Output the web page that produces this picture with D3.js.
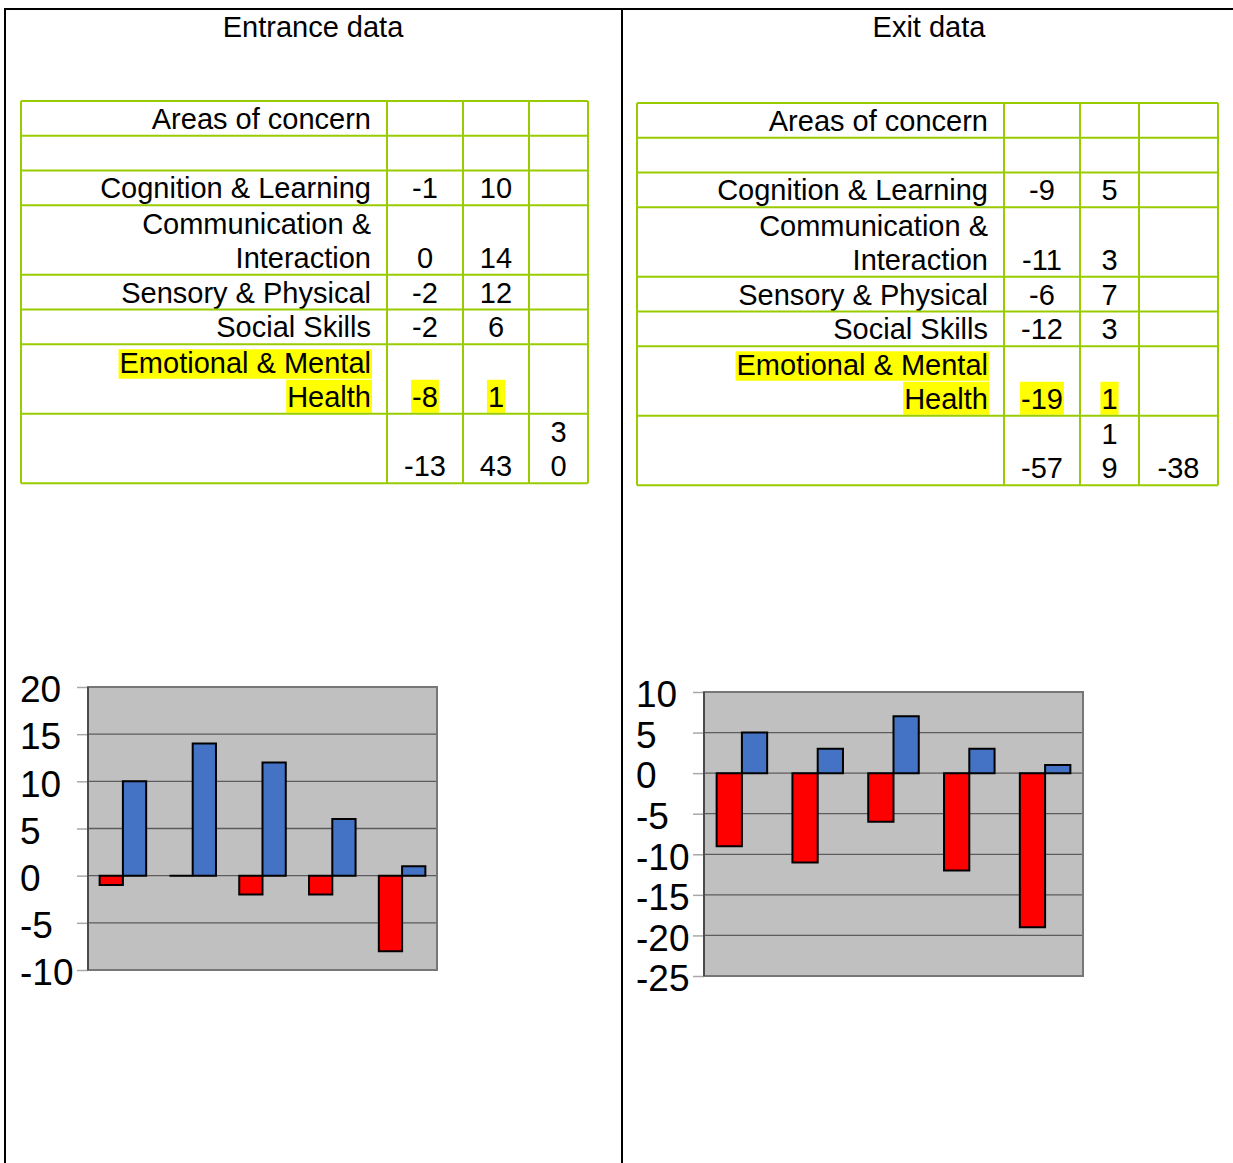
<!DOCTYPE html>
<html>
<head>
<meta charset="utf-8">
<script src="https://cdn.jsdelivr.net/npm/d3@7"></script>
<style>
  body { margin: 0; background: #fff; }
  svg { display: block; }
  text { font-family: "Liberation Sans", Arial, sans-serif; fill: #000; }
</style>
</head>
<body>
<svg id="page" width="1233" height="1163"></svg>
<script>
// ---- data -------------------------------------------------------------
const panelTitles = ["Entrance data", "Exit data"];
const headerLabel = "Areas of concern";
const areas = [
  "Cognition & Learning",
  "Communication & Interaction",
  "Sensory & Physical",
  "Social Skills",
  "Emotional & Mental Health"
];
const areaLines = [
  ["Cognition & Learning"],
  ["Communication &", "Interaction"],
  ["Sensory & Physical"],
  ["Social Skills"],
  ["Emotional & Mental", "Health"]
];
const highlightedArea = "Emotional & Mental Health";
const seriesKeys = ["down", "up"];

const entranceDown = [-1, 0, -2, -2, -8];
const entranceUp = [10, 14, 12, 6, 1];
const entranceTotals = [-13, 43, 30];
const entranceTicks = [-10, -5, 0, 5, 10, 15, 20];

const exitDown = [-9, -11, -6, -12, -19];
const exitUp = [5, 3, 7, 3, 1];
const exitTotals = [-57, 19, -38];
const exitTicks = [-25, -20, -15, -10, -5, 0, 5, 10];

// ---- layout -----------------------------------------------------------
const panels = [
  {
    title: panelTitles[0], titleX: 313,
    down: entranceDown, up: entranceUp, totals: entranceTotals, ticks: entranceTicks,
    cols: [21, 387, 463, 529, 588], tableTop: 101,
    plot: { x0: 88, x1: 437, y0: 687, y1: 970 }, labelX: 20
  },
  {
    title: panelTitles[1], titleX: 929,
    down: exitDown, up: exitUp, totals: exitTotals, ticks: exitTicks,
    cols: [637, 1004, 1080, 1139, 1218], tableTop: 103,
    plot: { x0: 704, x1: 1083, y0: 692, y1: 976 }, labelX: 636
  }
];

const GREEN = "#99CC00";
const YELLOW = "#FFFF00";
const RED = "#FF0000";
const BLUE = "#4472C4";
const TABLE_FONT = 29;
const LINE_H = 34.75;

const svg = d3.select("#page");

// page frame: two side-by-side cells
const frame = svg.append("g").attr("stroke", "#000").attr("stroke-width", 2);
frame.append("line").attr("x1", 4).attr("x2", 1233).attr("y1", 9).attr("y2", 9);
frame.append("line").attr("x1", 5).attr("x2", 5).attr("y1", 8).attr("y2", 1163);
frame.append("line").attr("x1", 622).attr("x2", 622).attr("y1", 8).attr("y2", 1163);

// text measuring helper
const measurer = svg.append("text").attr("font-size", TABLE_FONT).attr("visibility", "hidden");
function textWidth(s) {
  measurer.text(s);
  return measurer.node().getComputedTextLength();
}
// split a value into one character per line when the cell is too narrow
function wrapValue(s, cellW) {
  return textWidth(s) > cellW - 30 ? s.split("") : [s];
}

panels.forEach(p => {
  const g = svg.append("g");

  // title
  g.append("text")
    .attr("x", p.titleX).attr("y", 37)
    .attr("text-anchor", "middle")
    .attr("font-size", TABLE_FONT)
    .text(p.title);

  // ---- table ----
  const cols = p.cols;
  const colW = i => cols[i + 1] - cols[i];
  const rows = [];
  rows.push({ cells: [[headerLabel], [], [], []], hi: false });
  rows.push({ cells: [[], [], [], []], hi: false });
  areas.forEach((a, i) => {
    rows.push({
      cells: [areaLines[i], [String(p.down[i])], [String(p.up[i])], []],
      hi: a === highlightedArea
    });
  });
  rows.push({
    cells: [[], ...p.totals.map((t, j) => wrapValue(String(t), colW(j + 1)))],
    hi: false
  });

  let y = p.tableTop;
  rows.forEach(r => {
    r.n = Math.max(1, ...r.cells.map(c => c.length));
    r.top = y;
    r.bottom = y + r.n * LINE_H;
    y = r.bottom;
  });

  const hiLayer = g.append("g");
  const txtLayer = g.append("g").attr("font-size", TABLE_FONT);

  rows.forEach(r => {
    r.cells.forEach((lines, ci) => {
      lines.forEach((s, li) => {
        const base = r.bottom - 7 - (lines.length - 1 - li) * 34;
        const anchor = ci === 0 ? "end" : "middle";
        const tx = ci === 0 ? cols[1] - 16 : (cols[ci] + cols[ci + 1]) / 2;
        txtLayer.append("text")
          .attr("x", tx).attr("y", base)
          .attr("text-anchor", anchor)
          .text(s);
        if (r.hi) {
          const w = textWidth(s);
          const left = anchor === "end" ? tx - w : tx - w / 2;
          const top = Math.max(base - 27, r.top + 5);
          hiLayer.append("rect")
            .attr("x", left - 1).attr("y", top)
            .attr("width", w + 2).attr("height", base + 6 - top)
            .attr("fill", YELLOW);
        }
      });
    });
  });

  const grid = g.append("g").attr("stroke", GREEN).attr("stroke-width", 2);
  const ys = [rows[0].top, ...rows.map(r => r.bottom)];
  ys.forEach(yy => grid.append("line")
    .attr("x1", cols[0]).attr("x2", cols[cols.length - 1])
    .attr("y1", yy).attr("y2", yy));
  cols.forEach(xx => grid.append("line")
    .attr("x1", xx).attr("x2", xx)
    .attr("y1", ys[0]).attr("y2", ys[ys.length - 1]));

  // ---- bar chart ----
  const P = p.plot;
  const x = d3.scaleBand().domain(areas).range([P.x0, P.x1]);
  const xs = d3.scaleBand().domain(seriesKeys).range([0, x.bandwidth()])
    .paddingInner(0).paddingOuter(0.5);
  const yScale = d3.scaleLinear()
    .domain(d3.extent(p.ticks))
    .range([P.y1, P.y0]);

  const chart = g.append("g");
  chart.append("rect")
    .attr("x", P.x0).attr("y", P.y0)
    .attr("width", P.x1 - P.x0).attr("height", P.y1 - P.y0)
    .attr("fill", "#C0C0C0");

  chart.append("g").selectAll("line")
    .data(p.ticks)
    .join("line")
    .attr("x1", P.x0).attr("x2", P.x1)
    .attr("y1", d => yScale(d)).attr("y2", d => yScale(d))
    .attr("stroke", "#5c5c5c").attr("stroke-width", 1.3);

  const axis = chart.append("g")
    .attr("transform", `translate(${P.x0},0)`)
    .call(d3.axisLeft(yScale).tickValues(p.ticks).tickSize(11).tickFormat(d => String(d)));
  axis.select(".domain").remove();
  axis.selectAll(".tick line").attr("stroke", "#a8a8a8").attr("stroke-width", 1.5);
  axis.selectAll(".tick text")
    .attr("x", p.labelX - P.x0)
    .attr("dy", "0.4em")
    .attr("text-anchor", "start")
    .attr("font-size", 37)
    .attr("font-family", "'Liberation Sans', Arial, sans-serif")
    .attr("fill", "#000");

  const barData = [];
  areas.forEach((a, i) => {
    barData.push({ area: a, key: "down", v: p.down[i] });
    barData.push({ area: a, key: "up", v: p.up[i] });
  });
  const y0 = yScale(0);
  chart.append("g").selectAll("path")
    .data(barData)
    .join("path")
    .attr("d", d => {
      const bx = x(d.area) + xs(d.key);
      const bw = xs.bandwidth();
      const by = yScale(d.v);
      return `M${bx},${y0}H${bx + bw}V${by}H${bx}Z`;
    })
    .attr("fill", d => d.key === "down" ? RED : BLUE)
    .attr("stroke", "#000")
    .attr("stroke-width", 2)
    .attr("stroke-linejoin", "miter");

  // plot frame
  chart.append("rect")
    .attr("x", P.x0).attr("y", P.y0)
    .attr("width", P.x1 - P.x0).attr("height", P.y1 - P.y0)
    .attr("fill", "none")
    .attr("stroke", "#777").attr("stroke-width", 2);
  chart.append("line")
    .attr("x1", P.x0).attr("x2", P.x0).attr("y1", P.y0).attr("y2", P.y1)
    .attr("stroke", "#4a4a4a").attr("stroke-width", 2);
});

measurer.remove();
</script>
</body>
</html>
